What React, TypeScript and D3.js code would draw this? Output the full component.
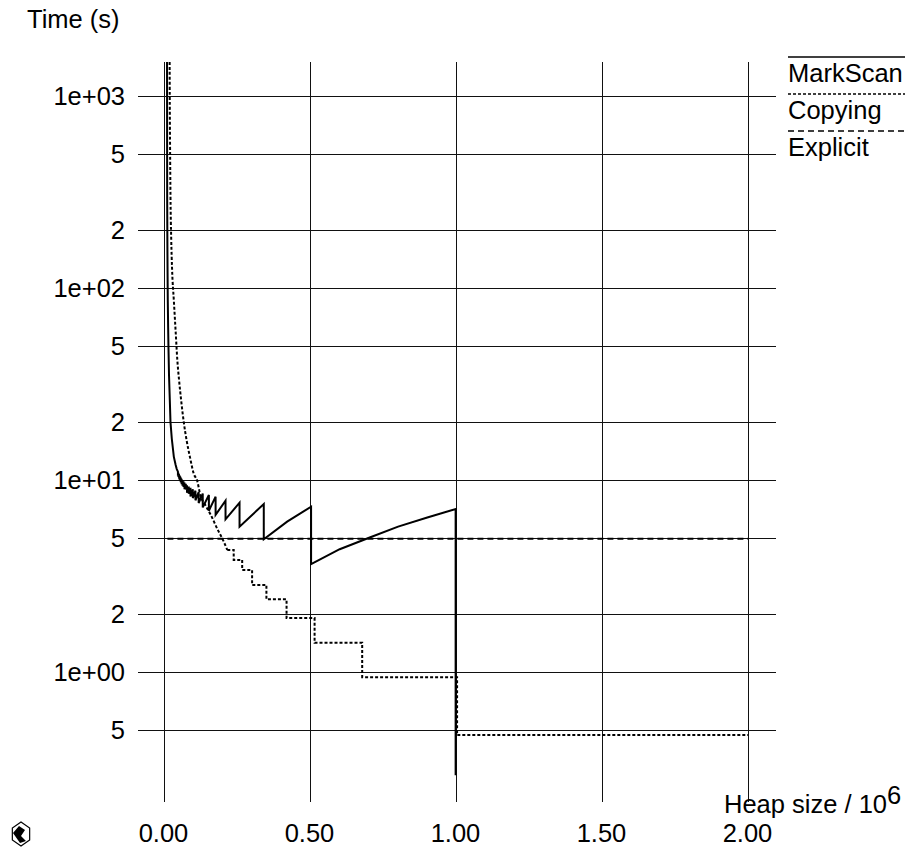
import React from 'react';
import * as d3 from 'd3';

const xTicks = [0, 0.5, 1, 1.5, 2];
const xTickLabels = ['0.00', '0.50', '1.00', '1.50', '2.00'];
const yTicks = [1000, 500, 200, 100, 50, 20, 10, 5, 2, 1, 0.5];
const yTickLabels = ['1e+03', '5', '2', '1e+02', '5', '2', '1e+01', '5', '2', '1e+00', '5'];

const seriesNames = ['MarkScan', 'Copying', 'Explicit'];

// MarkScan: steep head, then sawtooth
const markScanHead: [number, number][] = [
  [0.0086, 1700], [0.0088, 1000], [0.009, 520], [0.0092, 290], [0.0098, 180], [0.0105, 120],
  [0.0112, 87], [0.0125, 62], [0.0137, 48], [0.0155, 35], [0.0182, 26], [0.0205, 20],
  [0.025, 16.4], [0.032, 13.2], [0.038, 12.0], [0.042, 11.4],
];
const markScanTeeth: [number, number][] = [
  [0.046, 11.05], [0.046, 10.51], [0.0477, 10.9], [0.0477, 10.36], [0.0495, 10.75], [0.0495, 10.19],
  [0.0515, 10.6], [0.0515, 10.04], [0.0536, 10.45], [0.0536, 9.86], [0.056, 10.3], [0.056, 9.7],
  [0.0586, 10.15], [0.0586, 9.51], [0.0616, 10.0], [0.0616, 9.33], [0.065, 9.85], [0.065, 9.2],
  [0.0685, 9.7], [0.0685, 8.96], [0.073, 9.55], [0.073, 8.91], [0.077, 9.4], [0.077, 8.58],
  [0.083, 9.25], [0.083, 8.49], [0.089, 9.1], [0.089, 8.21], [0.097, 8.95], [0.097, 8.05],
  [0.106, 8.8], [0.106, 7.84], [0.117, 8.65], [0.117, 7.59], [0.131, 8.5], [0.131, 7.2],
  [0.152, 8.36], [0.152, 6.92], [0.175, 8.19], [0.175, 6.58], [0.209, 7.8], [0.209, 6.24],
  [0.257, 7.62], [0.257, 5.71], [0.34, 7.5], [0.34, 4.91], [0.42, 6.07], [0.502, 7.26],
];
const markScanTail: [number, number][] = [
  [0.502, 3.65], [0.6, 4.36], [0.705, 5.03], [0.8, 5.72], [0.9, 6.38], [0.997, 7.06], [0.997, 0.29],
];

// Copying: smooth decay then staircase
const copyingCurve: [number, number][] = [
  [0.0175, 1700], [0.018, 1000], [0.019, 560], [0.0205, 300], [0.023, 180], [0.026, 125],
  [0.032, 86], [0.038, 60], [0.044, 42], [0.05, 33], [0.057, 26], [0.066, 20], [0.076, 16],
  [0.087, 13.2], [0.1, 10.8], [0.112, 9.9], [0.123, 8.3], [0.14, 7.4], [0.158, 6.6],
  [0.18, 5.6], [0.203, 4.77], [0.215, 4.32],
];
const copyingSteps: [number, number][] = [
  [0.215, 4.32], [0.237, 3.83], [0.266, 3.4], [0.3, 2.84], [0.349, 2.39], [0.418, 1.91],
  [0.514, 1.42], [0.677, 0.94], [1.002, 0.47], [2.0, 0.47],
];

const explicitLine: [number, number][] = [[0.01, 4.95], [2.0, 4.95]];

const FONT = '"Liberation Sans", Arial, Helvetica, sans-serif';
const FS = 25.5;

export default function App() {
  const W = 909, H = 856;
  const x = d3.scaleLinear().domain([0, 2]).range([164.5, 748.5]);
  const y = d3.scaleLog().domain([1, 1000]).range([672, 96]);
  const plotTop = 62, plotBottom = 802, hLeft = 138, hRight = 776;

  const lin = d3.line<[number, number]>().x(d => x(d[0])).y(d => y(d[1]));
  const smooth = d3.line<[number, number]>().x(d => x(d[0])).y(d => y(d[1])).curve(d3.curveMonotoneX);
  const step = d3.line<[number, number]>().x(d => x(d[0])).y(d => y(d[1])).curve(d3.curveStepAfter);

  const markScanPath = lin([...markScanHead, ...markScanTeeth, ...markScanTail]) || '';
  const copyingPath = (smooth(copyingCurve) || '') + (step(copyingSteps) || '');
  const explicitPath = lin(explicitLine) || '';

  const legendY = [57, 94, 131];
  const legendDash = [undefined, '3,2', '6,4'];

  // hexagon glyph at bottom-left
  const hex = d3.range(6).map(i => {
    const a = Math.PI / 6 + (i * Math.PI) / 3;
    return [21 + 10 * Math.cos(a), 834 + 12 * Math.sin(a)] as [number, number];
  });

  return (
    <svg width={W} height={H} style={{ position: 'fixed', left: 0, top: 0, background: '#fff' }}
      fontFamily={FONT}>
      <defs>
        <clipPath id="plot">
          <rect x={hLeft} y={plotTop} width={hRight - hLeft} height={plotBottom - plotTop} />
        </clipPath>
      </defs>
      <rect width={W} height={H} fill="#fff" />
      <text x={27} y={28} fontSize={FS}>Time (s)</text>

      {/* horizontal grid */}
      {yTicks.map((t, i) => (
        <g key={'y' + i}>
          <line x1={hLeft} x2={hRight} y1={Math.round(y(t)) + 0.5} y2={Math.round(y(t)) + 0.5}
            stroke="#111" strokeWidth={1} />
          <text x={125} y={y(t) + 9} fontSize={FS} textAnchor="end">{yTickLabels[i]}</text>
        </g>
      ))}
      {/* vertical grid */}
      {xTicks.map((t, i) => (
        <g key={'x' + i}>
          <line x1={x(t)} x2={x(t)} y1={plotTop} y2={plotBottom} stroke="#111" strokeWidth={1} />
          <text x={x(t) - 1} y={842} fontSize={FS} textAnchor="middle">{xTickLabels[i]}</text>
        </g>
      ))}

      <text x={724} y={813} fontSize={FS}>Heap size / 10<tspan dy={-9}>6</tspan></text>

      <g clipPath="url(#plot)" fill="none" stroke="#000">
        <path d={explicitPath} strokeWidth={2} strokeDasharray="6,4" />
        <path d={copyingPath} strokeWidth={2} strokeDasharray="3,2" />
        <path d={markScanPath} strokeWidth={2} strokeLinejoin="miter" />
      </g>

      {/* legend */}
      {seriesNames.map((name, i) => (
        <g key={name}>
          <line x1={788} x2={905} y1={legendY[i]} y2={legendY[i]} stroke="#000" strokeWidth={1.5}
            strokeDasharray={legendDash[i]} />
          <text x={788} y={legendY[i] + 25} fontSize={FS}>{name}</text>
        </g>
      ))}

      {/* stray glyph bottom-left */}
      <polygon points={hex.map(p => p.join(',')).join(' ')} fill="none" stroke="#000" strokeWidth={1.2} />
      <path d="M13,833 L19,826 L25,830 L21,836 L26,841 L20,843 Z" fill="#000" />
    </svg>
  );
}
